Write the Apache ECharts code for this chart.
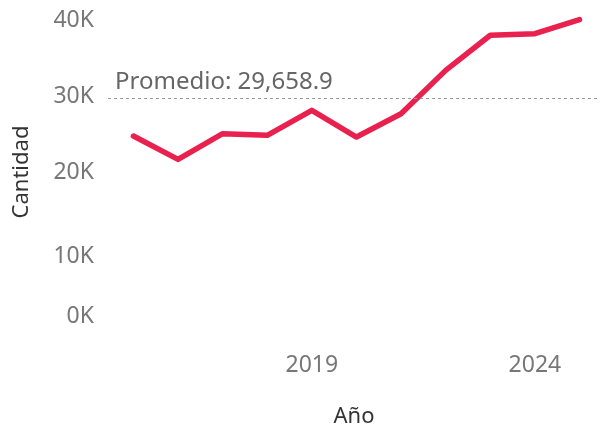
<!DOCTYPE html>
<html>
<head>
<meta charset="utf-8">
<script src="https://cdn.jsdelivr.net/npm/echarts@6/dist/echarts.min.js"></script>
<style>
html,body{margin:0;padding:0;background:#fff;}
#chart{width:600px;height:429px;}
</style>
</head>
<body>
<div id="chart"></div>
<script>
const years = [2015, 2016, 2017, 2018, 2019, 2020, 2021, 2022, 2023, 2024, 2025];
const cantidad = [24730, 21660, 25040, 24820, 28110, 24600, 27670, 33370, 37990, 38200, 40050];
const xTickLabels = [2019, 2024];
const promedio = 29658.9;
const promedioLabel = 'Promedio: 29,658.9';

const chart = echarts.init(document.getElementById('chart'), null, {renderer: 'canvas'});
const FONT = 'Noto Sans';
const data = years.map((y, i) => [y, cantidad[i]]);

chart.setOption({
  animation: false,
  backgroundColor: '#ffffff',
  grid: {left: 108, right: 0, top: 20, bottom: 105, containLabel: false, outerBoundsMode: 'none'},
  xAxis: {
    type: 'value',
    min: 2014.43,
    max: 2025.46,
    name: 'Año',
    nameLocation: 'middle',
    nameGap: 82,
    nameTextStyle: {fontFamily: FONT, fontSize: 22, color: '#333333'},
    axisLine: {show: false},
    axisTick: {show: false},
    splitLine: {show: false},
    axisLabel: {
      customValues: xTickLabels,
      fontFamily: FONT, fontSize: 23, color: '#777777', margin: 30,
      formatter: v => String(v)
    }
  },
  yAxis: {
    type: 'value',
    min: 0,
    max: 40000,
    interval: 10000,
    name: 'Cantidad',
    nameLocation: 'middle',
    nameRotate: 90,
    nameGap: 75,
    nameTextStyle: {fontFamily: FONT, fontSize: 22, color: '#333333'},
    axisLine: {show: false},
    axisTick: {show: false},
    splitLine: {show: false},
    axisLabel: {
      fontFamily: FONT, fontSize: 23, color: '#777777', margin: 14,
      formatter: v => {
        const t = (v / 1000) + 'K';
        if (v === 10000) return '{dn|' + t + '}';
        if (v === 0) return '{up|' + t + '}';
        return t;
      },
      rich: {
        dn: {fontFamily: FONT, fontSize: 23, color: '#777777', padding: [16, 0, 0, 0]},
        up: {fontFamily: FONT, fontSize: 23, color: '#777777', padding: [0, 0, 16, 0]}
      }
    }
  },
  series: [{
    type: 'line',
    data: data,
    clip: false,
    symbol: 'none',
    lineStyle: {color: '#E9214E', width: 5.5, cap: 'round', join: 'round'},
    markLine: {
      silent: true,
      symbol: 'none',
      data: [{yAxis: promedio}],
      lineStyle: {color: '#9a9a9a', type: [3, 3], width: 1},
      label: {
        position: 'insideStartTop',
        formatter: promedioLabel,
        fontFamily: FONT, fontSize: 24, color: '#666666',
        distance: [7, 4]
      }
    }
  }]
});
</script>
</body>
</html>
